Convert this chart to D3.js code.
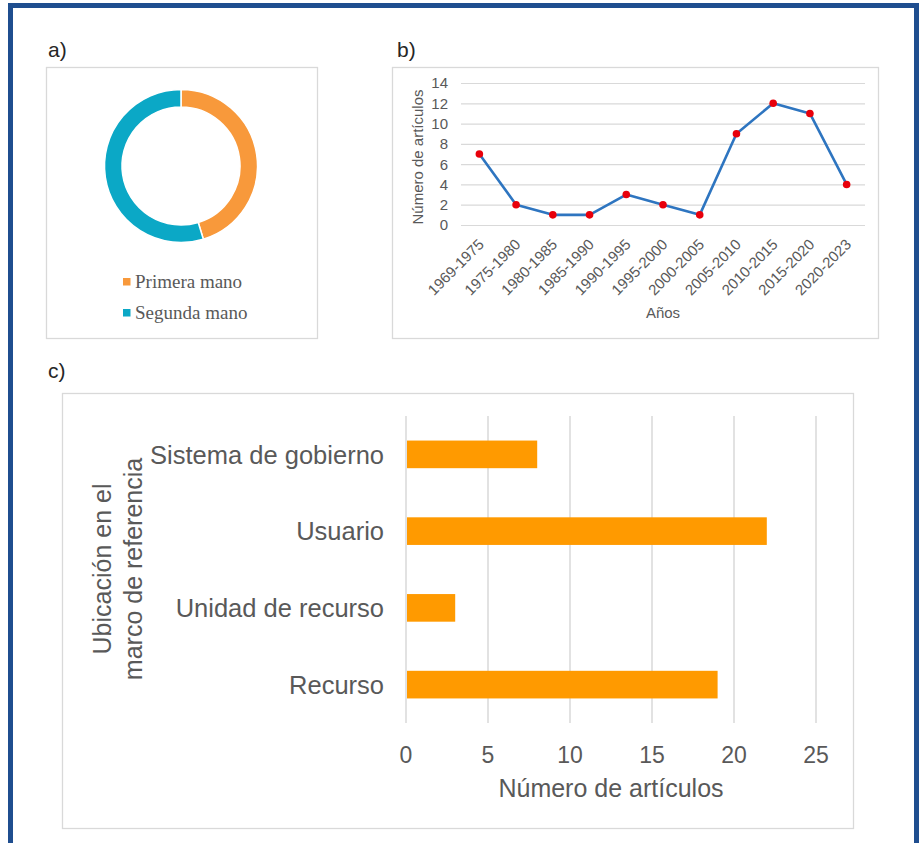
<!DOCTYPE html>
<html>
<head>
<meta charset="utf-8">
<script src="https://cdn.jsdelivr.net/npm/d3@7"></script>
<style>
  html, body { margin: 0; padding: 0; background: #ffffff; }
  svg { display: block; }
  text { font-family: "Liberation Sans", Arial, sans-serif; fill: #595959; }
</style>
</head>
<body>
<svg id="fig" width="922" height="843"></svg>
<script>
// (a) source type
const sourceLabels = ["Primera mano", "Segunda mano"];
const sourceCounts = [24, 29];
const sourceColors = ["#f8993b", "#0ba8c6"];

// (b) articles per period
const periods = ["1969-1975", "1975-1980", "1980-1985", "1985-1990", "1990-1995",
  "1995-2000", "2000-2005", "2005-2010", "2010-2015", "2015-2020", "2020-2023"];
const articlesPerPeriod = [7, 2, 1, 1, 3, 2, 1, 9, 12, 11, 4];
const periodTicks = [0, 2, 4, 6, 8, 10, 12, 14];

// (c) location in the framework
const frameworkLevels = ["Sistema de gobierno", "Usuario", "Unidad de recurso", "Recurso"];
const articlesPerLevel = [8, 22, 3, 19];
const levelTicks = [0, 5, 10, 15, 20, 25];

const svg = d3.select("#fig");

// outer blue frame
svg.append("rect")
  .attr("x", 10.5).attr("y", 5.5).attr("width", 906).attr("height", 880)
  .attr("fill", "#ffffff").attr("stroke", "#1f4e8f").attr("stroke-width", 5);

// panel letters
const letters = [["a)", 48, 57], ["b)", 397, 57], ["c)", 48, 378]];
svg.selectAll("text.letter").data(letters).join("text")
  .attr("class", "letter")
  .attr("x", d => d[1]).attr("y", d => d[2])
  .style("font-size", "21px").style("fill", "#262626")
  .text(d => d[0]);

// panel boxes
const boxes = [[46.5, 67.5, 271, 271], [392.5, 67.5, 486, 271], [62.5, 393.5, 791, 435]];
svg.selectAll("rect.box").data(boxes).join("rect")
  .attr("class", "box")
  .attr("x", d => d[0]).attr("y", d => d[1]).attr("width", d => d[2]).attr("height", d => d[3])
  .attr("fill", "#ffffff").attr("stroke", "#d9d9d9").attr("stroke-width", 1.3);

// ---------- (a) donut ----------
const pie = d3.pie().sort(null).value(d => d);
const arc = d3.arc().innerRadius(59).outerRadius(76.5);
const gA = svg.append("g").attr("transform", "translate(181,166)");
gA.selectAll("path").data(pie(sourceCounts)).join("path")
  .attr("d", arc)
  .attr("fill", (d, i) => sourceColors[i])
  .attr("stroke", "#ffffff").attr("stroke-width", 1.5);

const legA = svg.append("g");
sourceLabels.forEach((lab, i) => {
  const y = 282 + i * 31;
  legA.append("rect").attr("x", 123).attr("y", y - 4).attr("width", 7.5).attr("height", 7.5)
    .attr("fill", sourceColors[i]);
  legA.append("text").attr("x", 135).attr("y", y + 6)
    .style("font-family", "'Liberation Serif', 'Times New Roman', serif")
    .style("font-size", "19px")
    .text(lab);
});

// ---------- (b) line chart ----------
const xB = d3.scalePoint().domain(periods).range([461, 865]).padding(0.5);
const yB = d3.scaleLinear().domain([0, 14]).range([225, 83]);
const gB = svg.append("g");

gB.selectAll("line.grid").data(periodTicks).join("line")
  .attr("class", "grid")
  .attr("x1", 461).attr("x2", 865)
  .attr("y1", d => yB(d) + 0.5).attr("y2", d => yB(d) + 0.5)
  .attr("stroke", "#d9d9d9").attr("stroke-width", 1.2);

gB.selectAll("text.ytick").data(periodTicks).join("text")
  .attr("class", "ytick")
  .attr("x", 448).attr("y", d => yB(d)).attr("dy", "0.36em")
  .attr("text-anchor", "end")
  .style("font-size", "15px")
  .text(d => d);

gB.selectAll("text.xtick").data(periods).join("text")
  .attr("class", "xtick")
  .attr("transform", d => `translate(${xB(d) - 2},${238}) rotate(-45)`)
  .attr("text-anchor", "end")
  .attr("dy", "0.7em")
  .style("font-size", "15px")
  .text(d => d);

gB.append("text")
  .attr("transform", "translate(423,157) rotate(-90)")
  .attr("text-anchor", "middle")
  .style("font-size", "15px")
  .text("Número de artículos");

gB.append("text")
  .attr("x", 663).attr("y", 318)
  .attr("text-anchor", "middle")
  .style("font-size", "15px")
  .text("Años");

const lineB = d3.line().x((d, i) => xB(periods[i])).y(d => yB(d));
gB.append("path").datum(articlesPerPeriod)
  .attr("d", lineB)
  .attr("fill", "none").attr("stroke", "#2e75c0").attr("stroke-width", 2.6)
  .attr("stroke-linejoin", "round");

gB.selectAll("circle").data(articlesPerPeriod).join("circle")
  .attr("cx", (d, i) => xB(periods[i])).attr("cy", d => yB(d))
  .attr("r", 3.8).attr("fill", "#e8000b");

// ---------- (c) horizontal bars ----------
const xC = d3.scaleLinear().domain([0, 25]).range([406, 816]);
const yC = d3.scaleBand().domain(frameworkLevels).range([416, 723])
  .paddingInner(0.64).paddingOuter(0.32);
const gC = svg.append("g");

gC.selectAll("line.grid").data(levelTicks).join("line")
  .attr("class", "grid")
  .attr("x1", d => xC(d)).attr("x2", d => xC(d))
  .attr("y1", 416).attr("y2", 723)
  .attr("stroke", "#d9d9d9").attr("stroke-width", 1.5);

gC.selectAll("rect.bar").data(articlesPerLevel).join("rect")
  .attr("class", "bar")
  .attr("x", xC(0) + 1)
  .attr("y", (d, i) => yC(frameworkLevels[i]))
  .attr("width", d => xC(d) - xC(0) - 1)
  .attr("height", yC.bandwidth())
  .attr("fill", "#ff9a00");

gC.selectAll("text.xtick").data(levelTicks).join("text")
  .attr("class", "xtick")
  .attr("x", d => xC(d)).attr("y", 763)
  .attr("text-anchor", "middle")
  .style("font-size", "23px")
  .text(d => d);

gC.selectAll("text.ylab").data(frameworkLevels).join("text")
  .attr("class", "ylab")
  .attr("x", 384).attr("y", d => yC(d) + yC.bandwidth() / 2).attr("dy", "0.36em")
  .attr("text-anchor", "end")
  .style("font-size", "25.5px")
  .text(d => d);

gC.append("text")
  .attr("x", 611).attr("y", 797)
  .attr("text-anchor", "middle")
  .style("font-size", "25px")
  .text("Número de artículos");

const titleC = gC.append("text")
  .attr("transform", "translate(0,569) rotate(-90)")
  .attr("text-anchor", "middle")
  .style("font-size", "25px");
titleC.append("tspan").attr("x", 0).attr("y", 111).text("Ubicación en el");
titleC.append("tspan").attr("x", 0).attr("y", 142).text("marco de referencia");
</script>
</body>
</html>
